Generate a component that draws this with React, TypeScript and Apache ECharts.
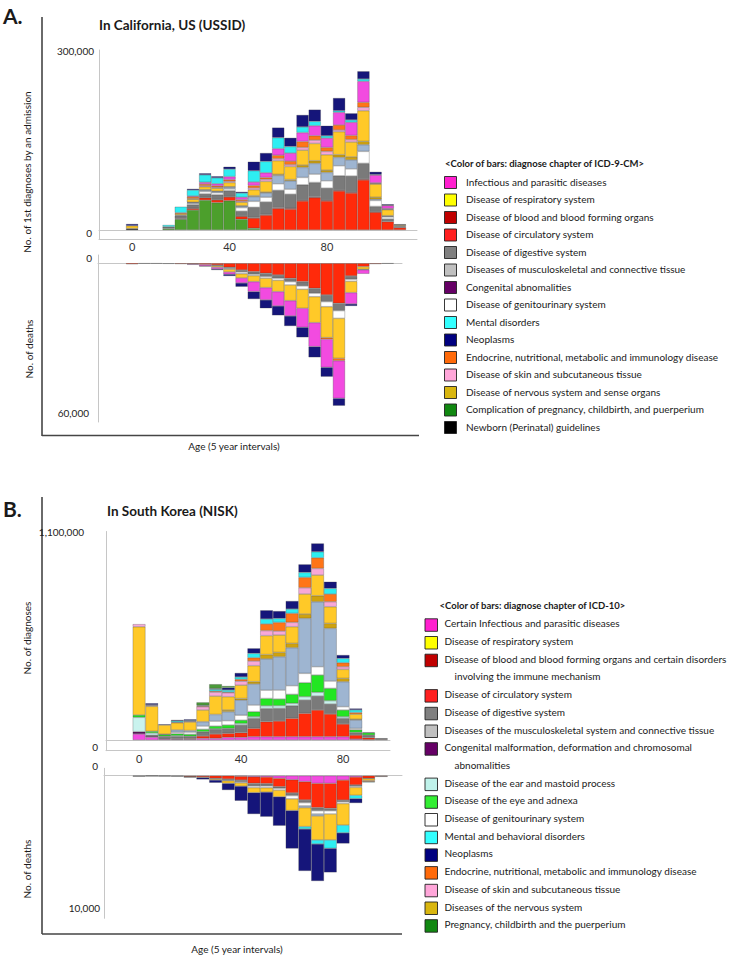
import React, { useEffect, useRef } from "react";
import * as echarts from "echarts";

const FONT = "Lato";

// ---------- categories ----------
const agesA = [0, 5, 10, 15, 20, 25, 30, 35, 40, 45, 50, 55, 60, 65, 70, 75, 80, 85, 90, 95, 100, 105, 110];
const agesB = [0, 5, 10, 15, 20, 25, 30, 35, 40, 45, 50, 55, 60, 65, 70, 75, 80, 85, 90, 95];
const ageTicks = [0, 40, 80];

// ---------- Panel A: admissions (USSID) ----------
const aNewborn = [2500, 0, 0, 0, 0, 0, 0, 0, 0, 0, 0, 0, 0, 0, 0, 0, 0, 0, 0, 0, 0, 0, 0];
const aPregnancy = [0, 0, 0, 2400, 18000, 33500, 50000, 46000, 49000, 18000, 3000, 0, 0, 0, 0, 0, 0, 0, 0, 0, 0, 0, 0];
const aCirculatory = [0, 0, 0, 0, 1000, 2500, 4000, 4500, 6500, 5000, 17000, 25000, 36000, 35000, 48600, 54200, 48600, 65400, 62000, 83900, 30000, 14000, 4000];
const aBlood = [0, 0, 0, 0, 0, 500, 500, 500, 500, 500, 1000, 1000, 1500, 1500, 1500, 1500, 1500, 1500, 1500, 1500, 500, 0, 0];
const aDigestive = [0, 0, 0, 3000, 5000, 6000, 6000, 8000, 10000, 8000, 17000, 21000, 29000, 23500, 25700, 24000, 20100, 24000, 27000, 26300, 9000, 4500, 1500];
const aGenito = [0, 0, 0, 0, 1000, 2000, 4000, 3500, 3000, 6000, 10000, 8000, 11000, 8500, 12300, 14000, 12300, 16800, 12000, 20100, 10000, 3500, 1000];
const aMusculo = [0, 0, 0, 0, 0, 1500, 2500, 2000, 3000, 2500, 8000, 7000, 14000, 14000, 16800, 17900, 14000, 14000, 15000, 11200, 2000, 1000, 0];
const aNervous = [0, 0, 0, 0, 0, 500, 500, 500, 500, 500, 1500, 1500, 1700, 2000, 3900, 4500, 3900, 4500, 5000, 5600, 3500, 1000, 0];
const aRespiratory = [4500, 0, 0, 0, 2000, 5000, 5000, 5000, 7000, 6000, 10000, 18000, 23000, 22000, 25000, 29000, 25700, 38600, 25000, 51400, 22000, 10000, 1500];
const aSkin = [0, 0, 0, 0, 0, 1000, 1500, 1500, 2000, 2000, 3000, 3500, 3400, 3000, 4500, 5600, 5600, 2800, 4000, 5600, 1000, 1000, 1000];
const aEndocrine = [0, 0, 0, 0, 2000, 3000, 3000, 2500, 3000, 2500, 4000, 3000, 5600, 6000, 10000, 7300, 6700, 8400, 7000, 8400, 1000, 1000, 0];
const aInfectious = [0, 0, 0, 0, 0, 1500, 3000, 3500, 5000, 4000, 6000, 8000, 11200, 13500, 15000, 16800, 15600, 21200, 22000, 35200, 13000, 5000, 0];
const aMental = [0, 0, 0, 3000, 10000, 10000, 12500, 10000, 12500, 7000, 19000, 19000, 18400, 11000, 9500, 7300, 3900, 2800, 4000, 3900, 1000, 500, 0];
const aNeoplasms = [3000, 0, 0, 0, 0, 2000, 2500, 2500, 4000, 2000, 15000, 14000, 16800, 14500, 20000, 19600, 16800, 21200, 11000, 12900, 4500, 1500, 500];

// ---------- Panel A: deaths ----------
const daCirculatory = [400, 100, 100, 200, 300, 300, 500, 700, 1600, 2700, 3350, 4000, 4690, 6030, 7360, 10040, 12720, 16070, 5090, 1340, 300, 100, 0];
const daDigestive = [0, 0, 0, 0, 0, 0, 0, 400, 500, 800, 1070, 1340, 1340, 1340, 1740, 2010, 2680, 2950, 1340, 0, 0, 0, 0];
const daGenito = [0, 0, 0, 0, 0, 0, 0, 0, 300, 700, 540, 670, 800, 1340, 1340, 1340, 2010, 3080, 800, 0, 0, 0, 0];
const daRespiratory = [0, 0, 0, 0, 0, 0, 0, 500, 1100, 1700, 2410, 3750, 4550, 6290, 7630, 10440, 12450, 16070, 4550, 1070, 0, 0, 0];
const daEndocrine = [0, 0, 0, 0, 0, 0, 0, 0, 0, 0, 0, 0, 0, 0, 0, 0, 670, 940, 0, 200, 0, 0, 0];
const daInfectious = [0, 0, 0, 0, 0, 300, 600, 700, 900, 2000, 4020, 4950, 5760, 6160, 7630, 9640, 11250, 15130, 4550, 1600, 0, 0, 0];
const daNeoplasms = [0, 0, 0, 0, 0, 0, 200, 400, 700, 1500, 2950, 3350, 3750, 4020, 4020, 4280, 3750, 2950, 800, 0, 0, 0, 0];

// ---------- Panel B: diagnoses (NISK) ----------
const bInfectious = [31700, 15000, 5000, 4000, 4000, 8800, 8800, 14000, 14000, 17600, 17600, 17600, 17600, 17600, 17600, 17600, 17600, 5000, 2000, 0];
const bCongenital = [12300, 5000, 3000, 0, 0, 0, 0, 0, 0, 0, 0, 0, 0, 0, 0, 0, 0, 0, 0, 0];
const bCirculatory = [0, 2000, 2000, 3000, 4000, 12300, 22900, 21100, 24600, 44000, 79000, 82700, 96800, 123200, 140800, 119700, 66900, 21100, 10000, 3000];
const bDigestive = [0, 3000, 10000, 12000, 12000, 22900, 24600, 26400, 40500, 52800, 70000, 66900, 66900, 70400, 73900, 52800, 29900, 14000, 12000, 4000];
const bEar = [75700, 12000, 0, 4000, 0, 0, 3000, 0, 8000, 8800, 14000, 14000, 12300, 17600, 19400, 17600, 8800, 0, 2000, 0];
const bEye = [12300, 9000, 9000, 10000, 10000, 12300, 14000, 17600, 17600, 26400, 38700, 35200, 47500, 73900, 91500, 65100, 35200, 14000, 12000, 0];
const bGenito = [0, 0, 0, 8000, 12000, 17600, 26400, 22900, 26400, 35200, 44000, 47500, 45800, 49300, 44000, 38700, 17600, 7000, 0, 0];
const bMusculo = [0, 0, 2000, 12000, 8000, 22900, 35200, 47500, 79200, 110900, 165000, 176000, 200600, 290400, 343000, 278000, 132000, 44000, 3000, 0];
const bNervous = [0, 0, 0, 0, 0, 0, 0, 8800, 8800, 12300, 22900, 22900, 22900, 22900, 31700, 26400, 17600, 5000, 0, 0];
const bRespiratory = [466000, 132000, 48000, 38000, 45000, 61600, 96800, 70400, 70400, 84500, 100000, 91500, 88000, 105600, 109000, 88000, 47500, 26400, 0, 0];
const bSkin = [14000, 5000, 0, 3000, 4000, 17600, 21100, 21100, 21100, 24600, 26400, 21000, 22900, 33400, 35200, 26400, 14000, 0, 0, 0];
const bEndocrine = [0, 0, 0, 0, 0, 4000, 5000, 3500, 10000, 17600, 35200, 45800, 47500, 54600, 56300, 40500, 21100, 8800, 0, 0];
const bMental = [0, 3000, 0, 7000, 4000, 3000, 10000, 10600, 12300, 22900, 26400, 21000, 22900, 26400, 31700, 29900, 22900, 14000, 0, 0];
const bNeoplasms = [0, 8000, 4000, 5000, 6000, 0, 4000, 12300, 21100, 26400, 45800, 38700, 42200, 42200, 44000, 35200, 17600, 7000, 0, 2000];
const bPregnancy = [0, 0, 0, 0, 0, 15800, 22900, 8800, 0, 0, 0, 0, 0, 0, 0, 0, 0, 0, 0, 0];

// ---------- Panel B: deaths ----------
const dbInfectious = [0, 0, 0, 0, 0, 0, 0, 0, 50, 80, 100, 200, 300, 450, 580, 580, 330, 100, 0, 0];
const dbCirculatory = [40, 20, 30, 40, 80, 100, 200, 250, 280, 500, 500, 630, 1000, 1380, 1830, 1880, 1510, 600, 200, 50];
const dbDigestive = [20, 10, 10, 20, 20, 0, 50, 80, 130, 200, 180, 130, 200, 200, 230, 180, 130, 100, 0, 30];
const dbGenito = [0, 0, 0, 0, 0, 0, 0, 50, 80, 120, 130, 130, 250, 250, 250, 250, 130, 80, 20, 0];
const dbMusculo = [0, 0, 0, 0, 0, 0, 0, 0, 0, 0, 0, 0, 0, 130, 150, 0, 0, 0, 0, 0];
const dbRespiratory = [0, 0, 0, 0, 20, 50, 80, 200, 250, 380, 330, 500, 880, 1430, 1810, 1960, 1630, 600, 150, 0];
const dbEndocrine = [0, 0, 0, 0, 0, 0, 0, 0, 0, 0, 0, 0, 0, 0, 0, 0, 0, 0, 80, 0];
const dbMental = [0, 0, 0, 0, 0, 0, 0, 0, 0, 0, 0, 0, 0, 180, 300, 630, 580, 250, 50, 0];
const dbNeoplasms = [0, 0, 0, 0, 0, 130, 200, 500, 1100, 1610, 1850, 2180, 2860, 3160, 2790, 1810, 800, 330, 0, 0];

// ---------- y tick labels (value shown at each axis end) ----------
const yTopA = 300000;
const yDeathA = 60000;
const yTopB = 1100000;
const yDeathB = 10000;

// ---------- legends ----------
const legendANames = [
  "Infectious and parasitic diseases",
  "Disease of respiratory system",
  "Disease of blood and blood forming organs",
  "Disease of circulatory system",
  "Disease of digestive system",
  "Diseases of musculoskeletal and connective tissue",
  "Congenital abnomalities",
  "Disease of genitourinary system",
  "Mental disorders",
  "Neoplasms",
  "Endocrine, nutritional, metabolic and immunology disease",
  "Disease of skin and subcutaneous tissue",
  "Disease of nervous system and sense organs",
  "Complication of pregnancy, childbirth, and puerperium",
  "Newborn (Perinatal) guidelines",
];
const legendAColors = ["#FF1FCF", "#FFFF00", "#C00000", "#FF2020", "#808080", "#C0C0C0", "#660066", "#FFFFFF", "#33FFFF", "#000080", "#FF6A0A", "#FFA6D9", "#D9B60F", "#118811", "#000000"];

const legendBNames = [
  "Certain Infectious and parasitic diseases",
  "Disease of respiratory system",
  "Disease of blood and blood forming organs and certain disorders\ninvolving the immune mechanism",
  "Disease of circulatory system",
  "Disease of digestive system",
  "Diseases of the musculoskeletal system and connective tissue",
  "Congenital malformation, deformation and chromosomal\nabnomalities",
  "Disease of the ear and mastoid process",
  "Disease of the eye and adnexa",
  "Disease of genitourinary system",
  "Mental and behavioral disorders",
  "Neoplasms",
  "Endocrine, nutritional, metabolic and immunology disease",
  "Disease of skin and subcutaneous tissue",
  "Diseases of the nervous system",
  "Pregnancy, childbirth and the puerperium",
];
const legendBColors = ["#FF1FCF", "#FFFF00", "#C00000", "#FF2020", "#808080", "#C0C0C0", "#660066", "#BFF2EA", "#33EE33", "#FFFFFF", "#33FFFF", "#000080", "#FF6A0A", "#FFA6D9", "#D9B60F", "#118811"];

// bar colours
const COL = {
  magenta: "#F24BE0", red: "#FF2A0A", dkred: "#B01010", gray: "#7A7A7A", white: "#FFFFFF",
  ltblue: "#9EB5D1", dkgold: "#CFA20E", gold: "#FFC928", pink: "#F8A8D8", orange: "#FF7518",
  cyan: "#2EEEF2", navy: "#15157A", pregA: "#4C9F2C", pregB: "#4B9A3A", ear: "#C9F3EE",
  eye: "#22E622", congenital: "#5A105A", newborn: "#111111",
};

type S = { name: string; color: string; data: number[] };

const seriesAAdm: S[] = [
  { name: legendANames[14], color: COL.newborn, data: aNewborn },
  { name: legendANames[13], color: COL.pregA, data: aPregnancy },
  { name: legendANames[3], color: COL.red, data: aCirculatory },
  { name: legendANames[2], color: COL.dkred, data: aBlood },
  { name: legendANames[4], color: COL.gray, data: aDigestive },
  { name: legendANames[7], color: COL.white, data: aGenito },
  { name: legendANames[5], color: COL.ltblue, data: aMusculo },
  { name: legendANames[12], color: COL.dkgold, data: aNervous },
  { name: legendANames[1], color: COL.gold, data: aRespiratory },
  { name: legendANames[11], color: COL.pink, data: aSkin },
  { name: legendANames[10], color: COL.orange, data: aEndocrine },
  { name: legendANames[0], color: COL.magenta, data: aInfectious },
  { name: legendANames[8], color: COL.cyan, data: aMental },
  { name: legendANames[9], color: COL.navy, data: aNeoplasms },
];
const seriesADeath: S[] = [
  { name: legendANames[3], color: COL.red, data: daCirculatory },
  { name: legendANames[4], color: COL.gray, data: daDigestive },
  { name: legendANames[7], color: COL.white, data: daGenito },
  { name: legendANames[1], color: COL.gold, data: daRespiratory },
  { name: legendANames[10], color: COL.orange, data: daEndocrine },
  { name: legendANames[0], color: COL.magenta, data: daInfectious },
  { name: legendANames[9], color: COL.navy, data: daNeoplasms },
];
const seriesBAdm: S[] = [
  { name: legendBNames[0], color: COL.magenta, data: bInfectious },
  { name: legendBNames[6], color: COL.congenital, data: bCongenital },
  { name: legendBNames[3], color: COL.red, data: bCirculatory },
  { name: legendBNames[4], color: COL.gray, data: bDigestive },
  { name: legendBNames[7], color: COL.ear, data: bEar },
  { name: legendBNames[8], color: COL.eye, data: bEye },
  { name: legendBNames[9], color: COL.white, data: bGenito },
  { name: legendBNames[5], color: COL.ltblue, data: bMusculo },
  { name: legendBNames[14], color: COL.dkgold, data: bNervous },
  { name: legendBNames[1], color: COL.gold, data: bRespiratory },
  { name: legendBNames[13], color: COL.pink, data: bSkin },
  { name: legendBNames[12], color: COL.orange, data: bEndocrine },
  { name: legendBNames[10], color: COL.cyan, data: bMental },
  { name: legendBNames[11], color: COL.navy, data: bNeoplasms },
  { name: legendBNames[15], color: COL.pregB, data: bPregnancy },
];
const seriesBDeath: S[] = [
  { name: legendBNames[0], color: COL.magenta, data: dbInfectious },
  { name: legendBNames[3], color: COL.red, data: dbCirculatory },
  { name: legendBNames[4], color: COL.gray, data: dbDigestive },
  { name: legendBNames[9], color: COL.white, data: dbGenito },
  { name: legendBNames[5], color: COL.ltblue, data: dbMusculo },
  { name: legendBNames[1], color: COL.gold, data: dbRespiratory },
  { name: legendBNames[12], color: COL.orange, data: dbEndocrine },
  { name: legendBNames[10], color: COL.cyan, data: dbMental },
  { name: legendBNames[11], color: COL.navy, data: dbNeoplasms },
];

// data rows are [value, age]; encode maps column 1 to x and column 0 to y so that
// the value column is the one ECharts stacks.
function bars(list: S[], ages: number[], xi: number, yi: number, stack: string, w: number) {
  return list.map((s) => ({
    type: "bar",
    name: s.name,
    stack,
    xAxisIndex: xi,
    yAxisIndex: yi,
    barWidth: w,
    silent: true,
    encode: { x: 1, y: 0 },
    itemStyle: { color: s.color, borderColor: "rgba(60,60,60,0.55)", borderWidth: 0.5 },
    data: ages.map((a, i) => [s.data[i] === 0 ? "-" : s.data[i], a]),
  }));
}

const AX = "#C6C6C6";
const xZero = (grid: number, min: number, max: number) => ({
  type: "value", gridIndex: grid, min, max,
  axisLine: { show: true, onZero: true, lineStyle: { color: AX, width: 1 } },
  axisTick: { show: false }, axisLabel: { show: false }, splitLine: { show: false },
});
const xBottom = (grid: number, min: number, max: number) => ({
  type: "value", gridIndex: grid, min, max, position: "bottom",
  axisLine: { show: true, onZero: false, lineStyle: { color: AX, width: 1 } },
  axisTick: { show: false },
  axisLabel: { show: true, customValues: ageTicks, margin: 2, fontSize: 11, color: "#333", fontFamily: FONT },
  splitLine: { show: false },
});
const fmtNum = (v: number) => v.toLocaleString("en-US");
// Axis carrying the "0" label (and the visible axis line)
const yZeroAx = (grid: number, min: number, max: number, inverse: boolean, margin: number, zPad: number[]) => ({
  type: "value", gridIndex: grid, min, max, inverse, position: "left",
  axisLine: { show: true, onZero: false, lineStyle: { color: AX, width: 1 } },
  axisTick: { show: false }, splitLine: { show: false },
  axisLabel: {
    customValues: [0], margin, fontSize: 10, color: "#222", fontFamily: FONT,
    formatter: () => "{z|0}",
    rich: { z: { fontSize: 10, color: "#222", fontFamily: FONT, padding: zPad } },
  },
});
// Overlaid axis carrying only the end label
const yEndAx = (grid: number, min: number, max: number, inverse: boolean, margin: number, top: number) => ({
  type: "value", gridIndex: grid, min, max, inverse, position: "left", offset: 0,
  axisLine: { show: false, onZero: false }, axisTick: { show: false }, splitLine: { show: false },
  axisLabel: { customValues: [top], margin, fontSize: 10, color: "#222", fontFamily: FONT, formatter: (v: number) => fmtNum(v) },
});

function txt(x: number, y: number, text: string, size: number, bold = false, align = "left", rotation = 0) {
  return {
    type: "text", x, y, rotation, silent: true,
    style: {
      text, fill: "#1a1a1a", fontSize: size, fontWeight: bold ? "bold" : "normal", fontFamily: FONT,
      textAlign: align, align, textVerticalAlign: "middle", verticalAlign: "middle",
    },
  };
}
function line(x1: number, y1: number, x2: number, y2: number) {
  return { type: "line", silent: true, shape: { x1, y1, x2, y2 }, style: { stroke: "#454545", lineWidth: 1.6 } };
}

function legendA() {
  const els: any[] = [txt(445, 163, "<Color of bars: diagnose chapter of ICD-9-CM>", 9.5, true)];
  legendANames.forEach((n, i) => {
    const cy = 181.5 + 17.5 * i;
    els.push({ type: "rect", silent: true, shape: { x: 444.5, y: cy - 5, width: 12, height: 12 }, style: { fill: legendAColors[i], stroke: "#222", lineWidth: 0.9 } });
    els.push(txt(466, cy, n, 10));
  });
  return els;
}
function legendB() {
  const els: any[] = [txt(439.5, 605, "<Color of bars: diagnose chapter of ICD-10>", 9.5, true)];
  let row = 0;
  legendBNames.forEach((n, i) => {
    const parts = n.split("\n");
    const cy = 623.3 + 17.7 * row;
    els.push({ type: "rect", silent: true, shape: { x: 425, y: cy - 4.5, width: 12.5, height: 12.5 }, style: { fill: legendBColors[i], stroke: "#222", lineWidth: 0.9 } });
    parts.forEach((p, k) => {
      els.push(txt(k === 0 ? 444.5 : 454.5, 623.3 + 17.7 * (row + k), p, 10));
    });
    row += parts.length;
  });
  return els;
}

function buildOption() {
  return {
    animation: false,
    backgroundColor: "#ffffff",
    textStyle: { fontFamily: FONT },
    grid: [
      { left: 99, top: 50, width: 318, height: 189, containLabel: false, outerBoundsMode: "none" },
      { left: 98, top: 255, width: 304, height: 167, containLabel: false, outerBoundsMode: "none" },
      { left: 106, top: 531.5, width: 284, height: 219.2, containLabel: false, outerBoundsMode: "none" },
      { left: 104, top: 768.3, width: 298, height: 150, containLabel: false, outerBoundsMode: "none" },
    ],
    xAxis: [
      xZero(0, -13.6, 117),
      xBottom(0, -13.6, 117),
      xZero(1, -14, 110.9),
      xZero(2, -12.97, 98.4),
      xBottom(2, -12.97, 98.4),
      xZero(3, -13.75, 103.1),
    ],
    yAxis: [
      yZeroAx(0, -15100, 301700, false, 7, [6, 0, 0, 0]),
      yEndAx(0, -15100, 301700, false, 5, yTopA),
      yZeroAx(1, -3333, 63735, true, 6, [0, 0, 10, 0]),
      yEndAx(1, -3333, 63735, true, 9, yDeathA),
      yZeroAx(2, -56500, 1101200, false, 8, [14, 0, 0, 0]),
      yEndAx(2, -56500, 1101200, false, 22, yTopB),
      yZeroAx(3, -558, 10754, true, 6, [0, 0, 20, 0]),
      yEndAx(3, -558, 10754, true, 4, yDeathB),
    ],
    series: [
      ...bars(seriesAAdm, agesA, 0, 0, "aAdm", 12.17),
      ...bars(seriesADeath, agesA, 2, 2, "aDeath", 12.17),
      ...bars(seriesBAdm, agesB, 3, 4, "bAdm", 12.75),
      ...bars(seriesBDeath, agesB, 5, 6, "bDeath", 12.75),
    ],
    graphic: {
      elements: [
        line(42, 17, 42, 436),
        line(42, 435.5, 419, 435.5),
        txt(3, 15, "A.", 21, true),
        txt(99, 25, "In California, US (USSID)", 13.5, true),
        txt(27, 172, "No. of 1st diagnoses by an admission", 10, false, "center", Math.PI / 2),
        txt(29, 349, "No. of deaths", 10, false, "center", Math.PI / 2),
        txt(234, 446, "Age (5 year intervals)", 10, false, "center"),
        ...legendA(),
        line(42, 497, 42, 934),
        line(42, 934, 402, 934),
        txt(3, 508, "B.", 21, true),
        txt(107, 511, "In South Korea (NISK)", 13.5, true),
        txt(27, 638, "No. of diagnoses", 10, false, "center", Math.PI / 2),
        txt(27, 869, "No. of deaths", 10, false, "center", Math.PI / 2),
        txt(237, 949, "Age (5 year intervals)", 10, false, "center"),
        ...legendB(),
      ],
    },
  };
}

export default function App() {
  const ref = useRef<HTMLDivElement>(null);
  useEffect(() => {
    if (!ref.current) return;
    const chart = echarts.init(ref.current, undefined, { renderer: "svg" });
    chart.setOption(buildOption() as any);
    return () => chart.dispose();
  }, []);
  return (
    <div
      ref={ref}
      style={{ position: "absolute", left: 0, top: 0, width: 750, height: 957, background: "#fff" }}
    />
  );
}
